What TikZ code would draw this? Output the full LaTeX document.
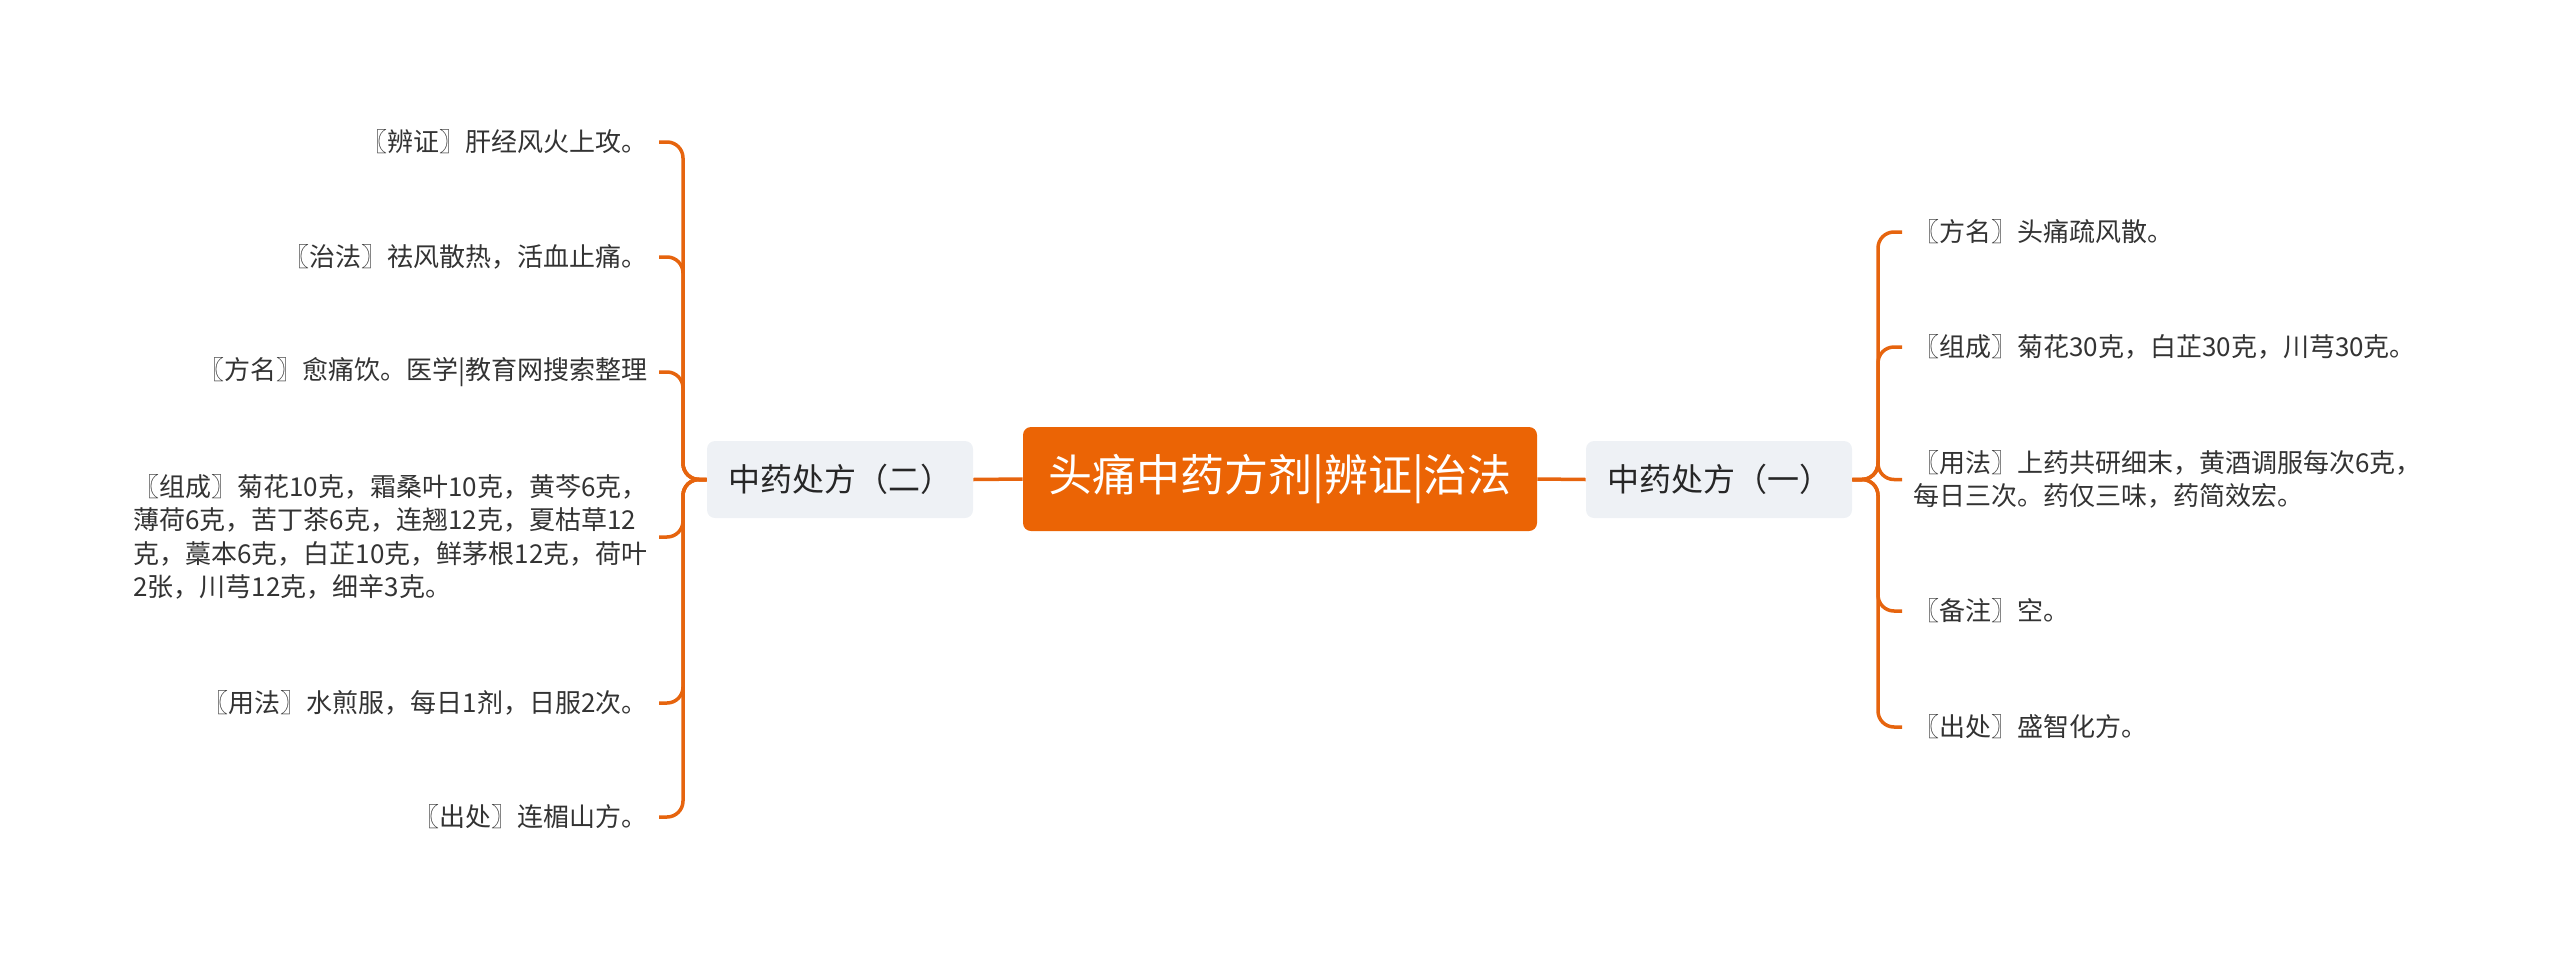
\documentclass[tikz,border=0pt]{standalone}
\usepackage{fontspec}
\setmainfont{Noto Sans CJK SC}
\definecolor{orangeline}{RGB}{230,100,14}
\definecolor{rootfill}{RGB}{235,100,5}
\definecolor{subfill}{RGB}{238,241,245}
\definecolor{subtext}{RGB}{38,38,38}
\definecolor{leaftext}{RGB}{51,51,51}
\newcommand\leaffont{\fontsize{13pt}{16.65pt}\selectfont}
\newcommand\subfont{\fontsize{16pt}{19pt}\selectfont}
\newcommand\rootfont{\fontsize{22pt}{26pt}\selectfont}
\begin{document}
\begin{tikzpicture}[x=0.5pt,y=-0.5pt,
  branch/.style={draw=orangeline, line width=1.75pt, rounded corners=8pt},
  leafR/.style={anchor=west, inner xsep=5.5pt, inner ysep=0pt, text=leaftext, font=\leaffont, align=left},
  leafL/.style={anchor=east, inner xsep=5.5pt, inner ysep=0pt, text=leaftext, font=\leaffont, align=left},
  subnode/.style={fill=subfill, rounded corners=4pt, minimum width=133pt, minimum height=38.5pt, text=subtext, font=\subfont, inner sep=0pt},
  rootnode/.style={fill=rootfill, rounded corners=4pt, minimum width=257pt, minimum height=52pt, text=white, font=\rootfont, inner sep=0pt}]
\useasboundingbox (0,0) rectangle (2560,959);

\node[rootnode] (root) at (1280,479) {头痛中药方剂|辨证|治法};
\node[subnode] (s1) at (1719,479.5) {中药处方（一）};
\node[subnode] (s2) at (840,479.5) {中药处方（二）};

\coordinate (RT) at (1878,479.5);
\coordinate (LT) at (683,479.5);

% right leaves
\node[leafR] (r1) at (1902,232) {〖方名〗头痛疏风散。};
\node[leafR] (r2) at (1902,347) {〖组成〗菊花30克，白芷30克，川芎30克。};
\node[leafR] (r3) at (1902,479.5) {〖用法〗上药共研细末，黄酒调服每次6克，\\每日三次。药仅三味，药简效宏。};
\node[leafR] (r4) at (1902,611) {〖备注〗空。};
\node[leafR] (r5) at (1902,727) {〖出处〗盛智化方。};

% left leaves
\node[leafL] (l1) at (659,142) {〖辨证〗肝经风火上攻。};
\node[leafL] (l2) at (659,257) {〖治法〗祛风散热，活血止痛。};
\node[leafL] (l3) at (659,372) {〖方名〗愈痛饮。医学|教育网搜索整理};
\node[leafL] (l4) at (659,537) {〖组成〗菊花10克，霜桑叶10克，黄芩6克，\\薄荷6克，苦丁茶6克，连翘12克，夏枯草12\\克，藁本6克，白芷10克，鲜茅根12克，荷叶\\2张，川芎12克，细辛3克。};
\node[leafL] (l5) at (659,703) {〖用法〗水煎服，每日1剂，日服2次。};
\node[leafL] (l6) at (659,817) {〖出处〗连楣山方。};

\draw[branch] (root.east) -- (s1.west);
\draw[branch] (root.west) -- (s2.east);

\foreach \n in {r1,r2,r3,r4,r5}
  \draw[branch] (s1.east) -- (RT) |- (\n.west);
\foreach \n in {l1,l2,l3,l4,l5,l6}
  \draw[branch] (s2.west) -- (LT) |- (\n.east);
\end{tikzpicture}
\end{document}
